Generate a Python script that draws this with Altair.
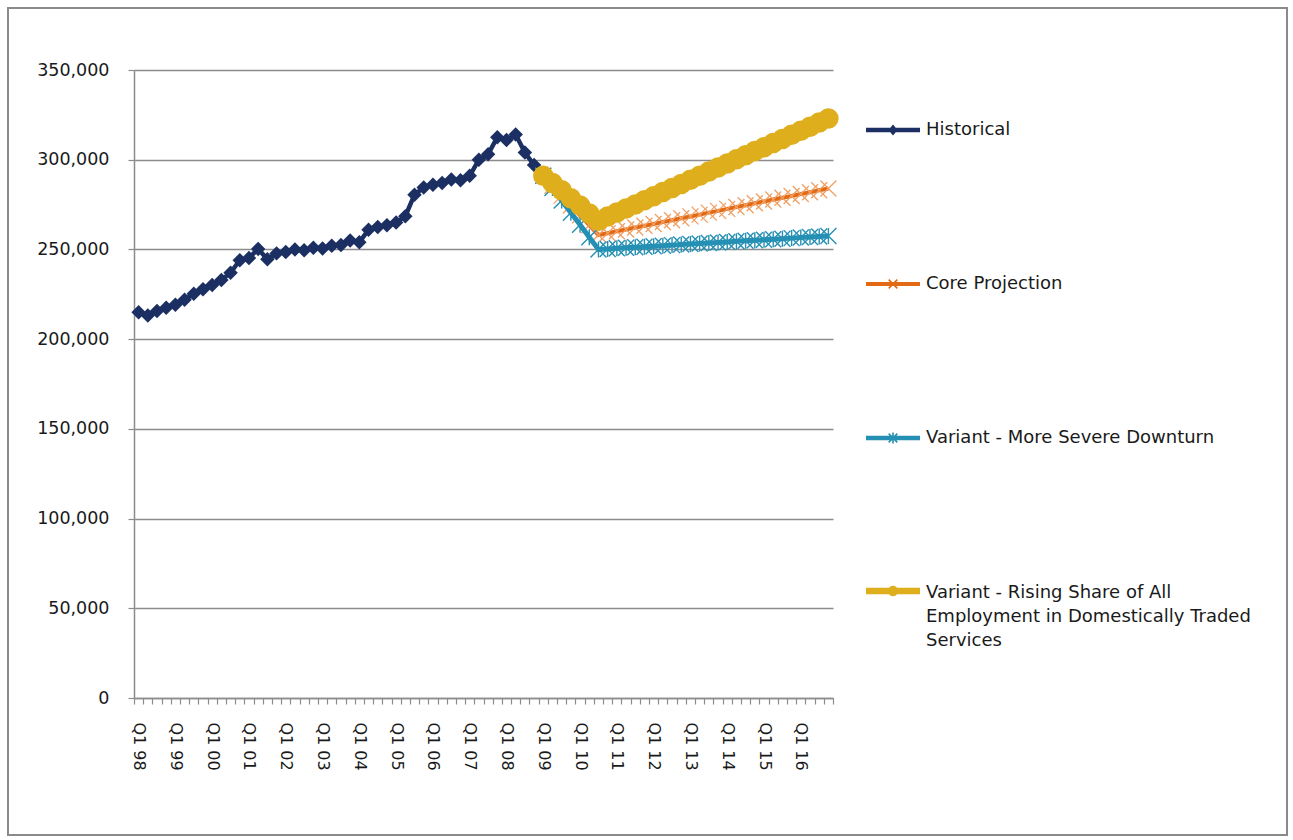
import math

import altair as alt
import pandas as pd

# ---------------------------------------------------------------- data
years = ["98", "99", "00", "01", "02", "03", "04", "05", "06", "07",
         "08", "09", "10", "11", "12", "13", "14", "15", "16"]
quarter_labels = [f"Q{n} {yy}" for yy in years for n in (1, 2, 3, 4)]

series_names = [
    "Historical",
    "Core Projection",
    "Variant - More Severe Downturn",
    "Variant - Rising Share of All Employment in Domestically Traded Services",
]
# wrapped text of the last legend entry
rising_label_lines = ["Variant - Rising Share of All",
                      "Employment in Domestically Traded",
                      "Services"]

historical_start = "Q1 98"
projection_start = "Q1 09"

historical = [
    215000, 213200, 215700, 217500, 219200, 222000, 225300, 227800,
    230200, 233000, 237000, 244000, 245200, 250300, 244500, 247800,
    248500, 250000, 249500, 251000, 250500, 252000, 252500, 255000,
    254000, 261000, 262500, 263500, 265000, 268500, 280500, 284500,
    286000, 287000, 289000, 288500, 291000, 300000, 303000, 312500,
    311000, 314000, 304000, 297000, 291000,
]
core_projection = [
    291000, 285500, 280000, 274500, 269000, 263500, 258000, 259000,
    260100, 261100, 262200, 263200, 264200, 265300, 266300, 267400,
    268400, 269400, 270500, 271500, 272600, 273600, 274600, 275700,
    276700, 277800, 278800, 279800, 280900, 281900, 283000, 284000,
]
severe_downturn = [
    291000, 284200, 277300, 270500, 263700, 256800, 250000, 250300,
    250600, 250900, 251200, 251500, 251800, 252100, 252400, 252700,
    253000, 253300, 253600, 253900, 254200, 254500, 254800, 255100,
    255400, 255700, 256000, 256300, 256600, 256900, 257200, 257500,
]
rising_share = [
    291000, 287000, 283000, 278500, 274500, 270000, 266000, 268300,
    270600, 272800, 275100, 277400, 279700, 282000, 284200, 286500,
    288800, 291100, 293400, 295600, 297900, 300200, 302500, 304800,
    307000, 309300, 311600, 313900, 316200, 318400, 320700, 323000,
]

y_ticks = [0, 50000, 100000, 150000, 200000, 250000, 300000, 350000]


def series_frame(name, values, first_quarter):
    start = quarter_labels.index(first_quarter)
    return pd.DataFrame({
        "q": list(range(start, start + len(values))),
        "value": values,
        "series": name,
    })


hist_df = series_frame(series_names[0], historical, historical_start)
core_df = series_frame(series_names[1], core_projection, projection_start)
severe_df = series_frame(series_names[2], severe_downturn, projection_start)
rising_df = series_frame(series_names[3], rising_share, projection_start)

# ---------------------------------------------------------------- style
FONT = "DejaVu Sans"
GRID = "#8c8c8c"
TEXT = "#1a1a1a"
NAVY = "#1c2f63"
ORANGE = "#e36a14"
ORANGE_LIGHT = "#f0a066"
TEAL = "#2590b4"
GOLD = "#dfae1c"

PLOT_W, PLOT_H = 699, 628
n_quarters = len(quarter_labels)
band = PLOT_W / n_quarters


# legend symbols: filled outlines in the [-1, 1] unit box
def poly(points):
    area = sum(points[i][0] * points[(i + 1) % len(points)][1]
               - points[(i + 1) % len(points)][0] * points[i][1]
               for i in range(len(points)))
    if area < 0:
        points = points[::-1]
    return "M" + "L".join(f"{x:.3f},{y:.3f}" for x, y in points) + "Z"


def bar(x0, y0, x1, y1, w):
    length = math.hypot(x1 - x0, y1 - y0)
    nx, ny = -(y1 - y0) / length * w, (x1 - x0) / length * w
    return poly([(x0 + nx, y0 + ny), (x1 + nx, y1 + ny),
                 (x1 - nx, y1 - ny), (x0 - nx, y0 - ny)])


def disc(r, n=20):
    return poly([(r * math.cos(2 * math.pi * k / n),
                  r * math.sin(2 * math.pi * k / n)) for k in range(n)])


cross = bar(-0.16, -0.16, 0.16, 0.16, 0.03) + bar(-0.16, 0.16, 0.16, -0.16, 0.03)
sym_hist = bar(-1, 0, 1, 0, 0.08) + poly([(0, -0.2), (0.17, 0), (0, 0.2), (-0.17, 0)])
sym_core = bar(-1, 0, 1, 0, 0.075) + cross
sym_severe = bar(-1, 0, 1, 0, 0.08) + cross + bar(0, -0.2, 0, 0.2, 0.03)
sym_rising = bar(-1, 0, 1, 0, 0.12) + disc(0.19)

# ---------------------------------------------------------------- axes
x_labels_js = "[" + ",".join(f"'{s}'" for s in quarter_labels) + "]"
x_axis = alt.Axis(
    values=[k - 0.5 for k in range(n_quarters + 1)],
    labelExpr=(f"(datum.value + 0.5) % 4 == 0 && datum.value < {n_quarters - 1}"
               f" ? {x_labels_js}[datum.value + 0.5] : ''"),
    labelAngle=90, labelAlign="left", labelBaseline="middle",
    labelOffset=band / 2, labelPadding=18, labelFont=FONT, labelFontSize=16,
    labelColor=TEXT, labelOverlap=False, labelFlush=False,
    tickSize=6, tickColor=GRID, tickWidth=1.2,
    domainColor=GRID, domainWidth=1.5, grid=False, title=None,
)
y_axis = alt.Axis(
    values=y_ticks, format=",d", labelFont=FONT, labelFontSize=17.5,
    labelColor=TEXT, labelPadding=19, labelFlush=False,
    tickSize=6, tickColor=GRID, tickWidth=1.2,
    domainColor=GRID, domainWidth=1.5,
    grid=True, gridColor=GRID, gridWidth=1.5, title=None,
)

x_enc = alt.X("q:Q", scale=alt.Scale(domain=[-0.5, n_quarters - 0.5], nice=False, zero=False),
              axis=x_axis)
y_enc = alt.Y("value:Q", scale=alt.Scale(domain=[0, 350000], nice=False), axis=y_axis)

LEGEND_X = 732


def legend(name, color, symbol, legend_y, label_expr=None, symbol_opacity=1):
    opts = dict(
        orient="none", legendX=LEGEND_X, legendY=legend_y, title=None,
        symbolType=symbol, symbolSize=54 ** 2, symbolStrokeWidth=0,
        symbolOpacity=symbol_opacity,
        labelFont=FONT, labelFontSize=18, labelColor=TEXT, labelOffset=6,
        labelLimit=600, padding=0,
    )
    if label_expr:
        opts["labelExpr"] = label_expr
    return alt.Color("series:N", scale=alt.Scale(domain=[name], range=[color]),
                     legend=alt.Legend(**opts))


def carrier(df, legend_color):
    # invisible points whose colour scale provides a legend entry
    return alt.Chart(df).mark_point(filled=True, size=0, opacity=1).encode(
        x=x_enc, y=y_enc, color=legend_color)


def series_layer(df, color, line_width, marker, legend_color):
    line = alt.Chart(df).mark_line(color=color, strokeWidth=line_width).encode(
        x=x_enc, y=y_enc)
    return alt.layer(line, marker.encode(x=x_enc, y=y_enc), carrier(df, legend_color))


hist_layer = series_layer(
    hist_df, NAVY, 4.5,
    alt.Chart(hist_df).mark_point(shape="diamond", filled=True, size=210,
                                  color=NAVY, opacity=1),
    legend(series_names[0], NAVY, sym_hist, 33),
)
core_layer = series_layer(
    core_df, ORANGE, 4,
    alt.Chart(core_df).mark_point(shape="M-1,-1L1,1M-1,1L1,-1", filled=False,
                                  size=256, color=ORANGE_LIGHT, strokeWidth=1.3,
                                  opacity=1),
    legend(series_names[1], ORANGE, sym_core, 187),
)
severe_layer = series_layer(
    severe_df, TEAL, 5,
    alt.Chart(severe_df).mark_point(shape="M-1,-1L1,1M-1,1L1,-1M0,-1L0,1",
                                    filled=False, size=256, color=TEAL,
                                    strokeWidth=1.4, opacity=1),
    legend(series_names[2], TEAL, sym_severe, 341),
)
# the last entry: symbol alone, plus its wrapped text placed as a second legend
rising_layer = series_layer(
    rising_df, GOLD, 14,
    alt.Chart(rising_df).mark_point(shape="circle", filled=True, size=420,
                                    color=GOLD, opacity=1),
    legend(series_names[3], GOLD, sym_rising, 494, "''"),
)
rising_expr = "['', " + ", ".join(f"'{s}'" for s in rising_label_lines) + "]"
rising_text = carrier(
    rising_df, legend(series_names[3], GOLD, sym_rising, 472, rising_expr, 0)
)

# outer frame around the whole figure
frame = alt.Chart(pd.DataFrame({"k": [0]})).mark_rect(
    fill="transparent", stroke="#8a8a8a", strokeWidth=2
).encode(
    x=alt.value(-126), x2=alt.value(1153), y=alt.value(-62), y2=alt.value(765)
)

chart = alt.layer(
    frame, hist_layer, core_layer, severe_layer, rising_layer, rising_text,
    config=alt.Config(
        view=alt.ViewConfig(strokeWidth=0),
        style={"guide-label": {"lineHeight": 24}},
    ),
).resolve_scale(
    color="independent"
).properties(
    width=PLOT_W, height=PLOT_H,
    autosize=alt.AutoSizeParams(type="none"),
    padding={"left": 134, "top": 70, "right": 460, "bottom": 142},
    background="white",
)

chart.save("out.html", embed_options={"renderer": "svg", "actions": False})
